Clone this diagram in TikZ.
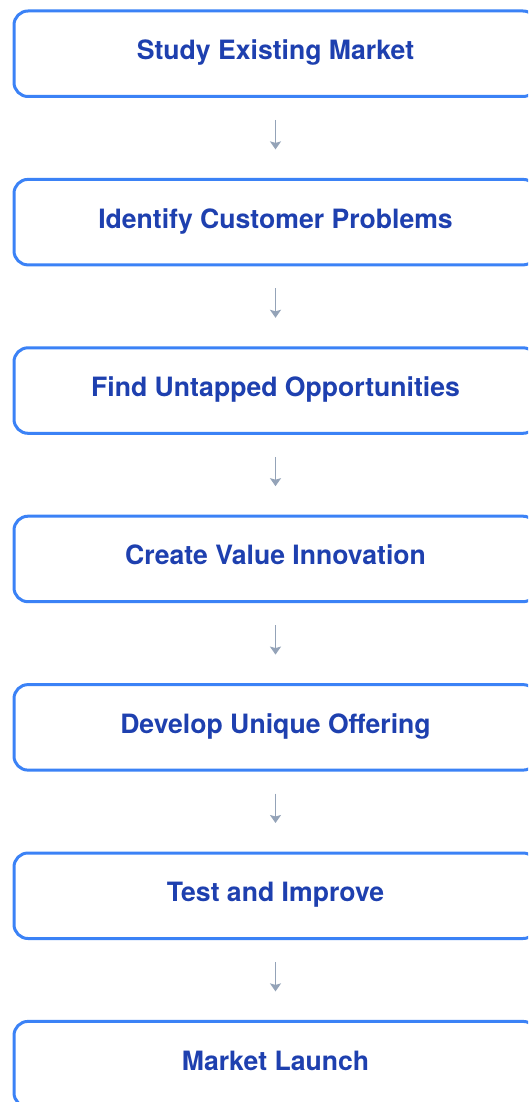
\documentclass[tikz,border=0pt]{standalone}
\usepackage{fontspec}
\setmainfont{TeX Gyre Heros}
\usetikzlibrary{arrows.meta}
\definecolor{boxborder}{HTML}{3B82F6}
\definecolor{boxtext}{HTML}{1E40AF}
\definecolor{flowarrow}{HTML}{94A3B8}
\begin{document}
\begin{tikzpicture}[x=1pt,y=1pt,
  stepbox/.style={draw=boxborder, line width=3pt, fill=white,
    rounded corners=14pt, outer sep=0pt, inner sep=0pt,
    minimum width=523pt, minimum height=85.5pt,
    text=boxtext, font=\fontsize{26.6}{30}\selectfont\bfseries,
    text height=18.7pt, text depth=7pt},
  flow/.style={draw=flowarrow, line width=1.8pt,
    -{Stealth[length=8pt,width=11pt,inset=1.5pt]},
    shorten <=23.5pt, shorten >=30pt}]
  \clip (0,0) rectangle (528,-1102);
  \useasboundingbox (0,0) rectangle (528,-1102);
  \node[stepbox] (s1) at (275.5,-53.75) {Study Existing Market};
  \node[stepbox] (s2) at (275.5,-222.15) {Identify Customer Problems};
  \node[stepbox] (s3) at (275.5,-390.55) {Find Untapped Opportunities};
  \node[stepbox] (s4) at (275.5,-558.95) {Create Value Innovation};
  \node[stepbox] (s5) at (275.5,-727.35) {Develop Unique Offering};
  \node[stepbox] (s6) at (275.5,-895.75) {Test and Improve};
  \node[stepbox] (s7) at (275.5,-1064.15) {Market Launch};
  \foreach \a/\b in {s1/s2,s2/s3,s3/s4,s4/s5,s5/s6,s6/s7}
    \draw[flow] (\a) -- (\b);
\end{tikzpicture}
\end{document}
